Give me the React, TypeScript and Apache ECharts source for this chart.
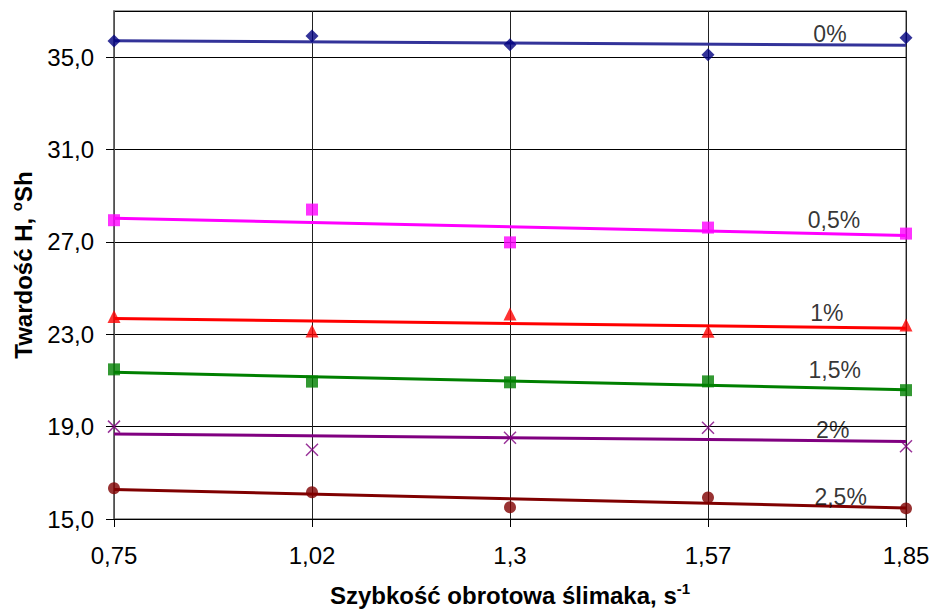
import React, { useEffect, useRef } from "react";
import * as echarts from "echarts";

const FONT = '"Liberation Sans", Arial, sans-serif';

const categories = ["0,75", "1,02", "1,3", "1,57", "1,85"];

const h0 = [35.7, 35.92, 35.54, 35.1, 35.84];
const trend0 = [35.71, 35.52];
const h05 = [27.94, 28.4, 26.98, 27.62, 27.36];
const trend05 = [28.03, 27.28];
const h1 = [23.77, 23.14, 23.88, 23.13, 23.4];
const trend1 = [23.68, 23.26];
const h15 = [21.48, 20.95, 20.92, 20.96, 20.58];
const trend15 = [21.35, 20.6];
const h2 = [19.0, 18.0, 18.52, 18.95, 18.15];
const trend2 = [18.68, 18.36];
const h25 = [16.33, 16.16, 15.51, 15.93, 15.46];
const trend25 = [16.28, 15.48];

const seriesNames = ["0%", "0,5%", "1%", "1,5%", "2%", "2,5%"];
const labelX = [3.616, 3.636, 3.6, 3.64, 3.63, 3.67];
const labelY = [36.02, 27.94, 23.94, 21.47, 18.86, 15.97];

const CROSS = "path://M0,0L10,10M10,0L0,10";

function trendData(t: number[]) {
  const arr: (number | null)[] = categories.map(() => null);
  arr[0] = t[0];
  arr[categories.length - 1] = t[1];
  return arr;
}

export default function App() {
  const ref = useRef<HTMLDivElement>(null);
  useEffect(() => {
    document.body.style.margin = "0";
    if (!ref.current) return;
    const chart = echarts.init(ref.current, undefined, { renderer: "svg" });

    const groups = [
      { name: seriesNames[0], pts: h0, tr: trend0, line: "#333399", mark: "#000080", symbol: "diamond", size: 13 },
      { name: seriesNames[1], pts: h05, tr: trend05, line: "#FF00FF", mark: "#FF00FF", symbol: "rect", size: 12 },
      { name: seriesNames[2], pts: h1, tr: trend1, line: "#FF0000", mark: "#FF0000", symbol: "triangle", size: 13 },
      { name: seriesNames[3], pts: h15, tr: trend15, line: "#008000", mark: "#008000", symbol: "rect", size: 12 },
      { name: seriesNames[4], pts: h2, tr: trend2, line: "#800080", mark: "#800080", symbol: CROSS, size: 12 },
      { name: seriesNames[5], pts: h25, tr: trend25, line: "#800000", mark: "#800000", symbol: "circle", size: 12 },
    ];

    const series: any[] = [];
    groups.forEach((g) => {
      series.push({
        type: "line",
        name: g.name + " trend",
        data: trendData(g.tr),
        connectNulls: true,
        showSymbol: false,
        symbol: "none",
        lineStyle: { color: g.line, width: 3 },
        z: 2,
      });
    });
    groups.forEach((g) => {
      const isCross = g.symbol === CROSS;
      series.push({
        type: "scatter",
        name: g.name,
        data: g.pts,
        symbol: g.symbol,
        symbolSize: g.size,
        itemStyle: isCross
          ? { color: "rgba(0,0,0,0)", borderColor: g.mark, borderWidth: 1.5 }
          : { color: g.mark },
        z: 3,
      });
    });
    series.push({
      type: "scatter",
      name: "labels",
      xAxisIndex: 1,
      data: seriesNames.map((n, i) => ({ name: n, value: [labelX[i], labelY[i]] })),
      symbolSize: 1,
      itemStyle: { color: "rgba(0,0,0,0)" },
      label: {
        show: true,
        position: "inside",
        formatter: (p: any) => p.name,
        fontFamily: FONT,
        fontSize: 23,
        color: "#000",
      },
      z: 4,
    });

    chart.setOption({
      animation: false,
      backgroundColor: "#fff",
      textStyle: { fontFamily: FONT },
      grid: {
        left: 114,
        right: 26,
        top: 11,
        bottom: 94,
        containLabel: false,
        outerBoundsMode: "none",
        show: true,
        borderColor: "#808080",
        borderWidth: 1.5,
        backgroundColor: "transparent",
      },
      xAxis: [
        {
          type: "category",
          data: categories,
          boundaryGap: false,
          axisLine: { show: true, lineStyle: { color: "#000", width: 1 } },
          axisTick: { show: true, length: 8, lineStyle: { color: "#000" } },
          axisLabel: { fontSize: 24, color: "#000", margin: 24, fontFamily: FONT },
          splitLine: { show: true, lineStyle: { color: "#222", width: 1 } },
          name: "Szybkość obrotowa ślimaka, s{sup|-1}",
          nameLocation: "middle",
          nameGap: 62,
          nameTextStyle: {
            fontFamily: FONT,
            fontSize: 24,
            fontWeight: "bold",
            color: "#000",
            rich: {
              sup: { fontSize: 15, fontWeight: "bold", fontFamily: FONT, color: "#000", verticalAlign: "top", padding: [0, 0, 14, 0] },
            },
          },
        },
        { type: "value", min: 0, max: 4, show: false },
      ],
      yAxis: {
        type: "value",
        min: 15,
        max: 37,
        interval: 4,
        axisLine: { show: true, lineStyle: { color: "#606060", width: 1.5 } },
        axisTick: { show: true, length: 8, lineStyle: { color: "#000" } },
        axisLabel: {
          fontSize: 24,
          color: "#000",
          margin: 20,
          fontFamily: FONT,
          showMaxLabel: false,
          formatter: (v: number) => (v > 36 ? "" : v.toFixed(1).replace(".", ",")),
        },
        splitLine: { show: true, lineStyle: { color: "#000", width: 1 } },
        name: "Twardość H, {sup|o}Sh",
        nameLocation: "middle",
        nameRotate: 90,
        nameGap: 76,
        nameTextStyle: {
          fontFamily: FONT,
          fontSize: 24,
          fontWeight: "bold",
          color: "#000",
          rich: {
            sup: { fontSize: 15, fontWeight: "bold", fontFamily: FONT, color: "#000", verticalAlign: "top", padding: [0, 0, 14, 0] },
          },
        },
      },
      series,
    });
    return () => chart.dispose();
  }, []);
  return <div ref={ref} style={{ width: 932, height: 613 }} />;
}
